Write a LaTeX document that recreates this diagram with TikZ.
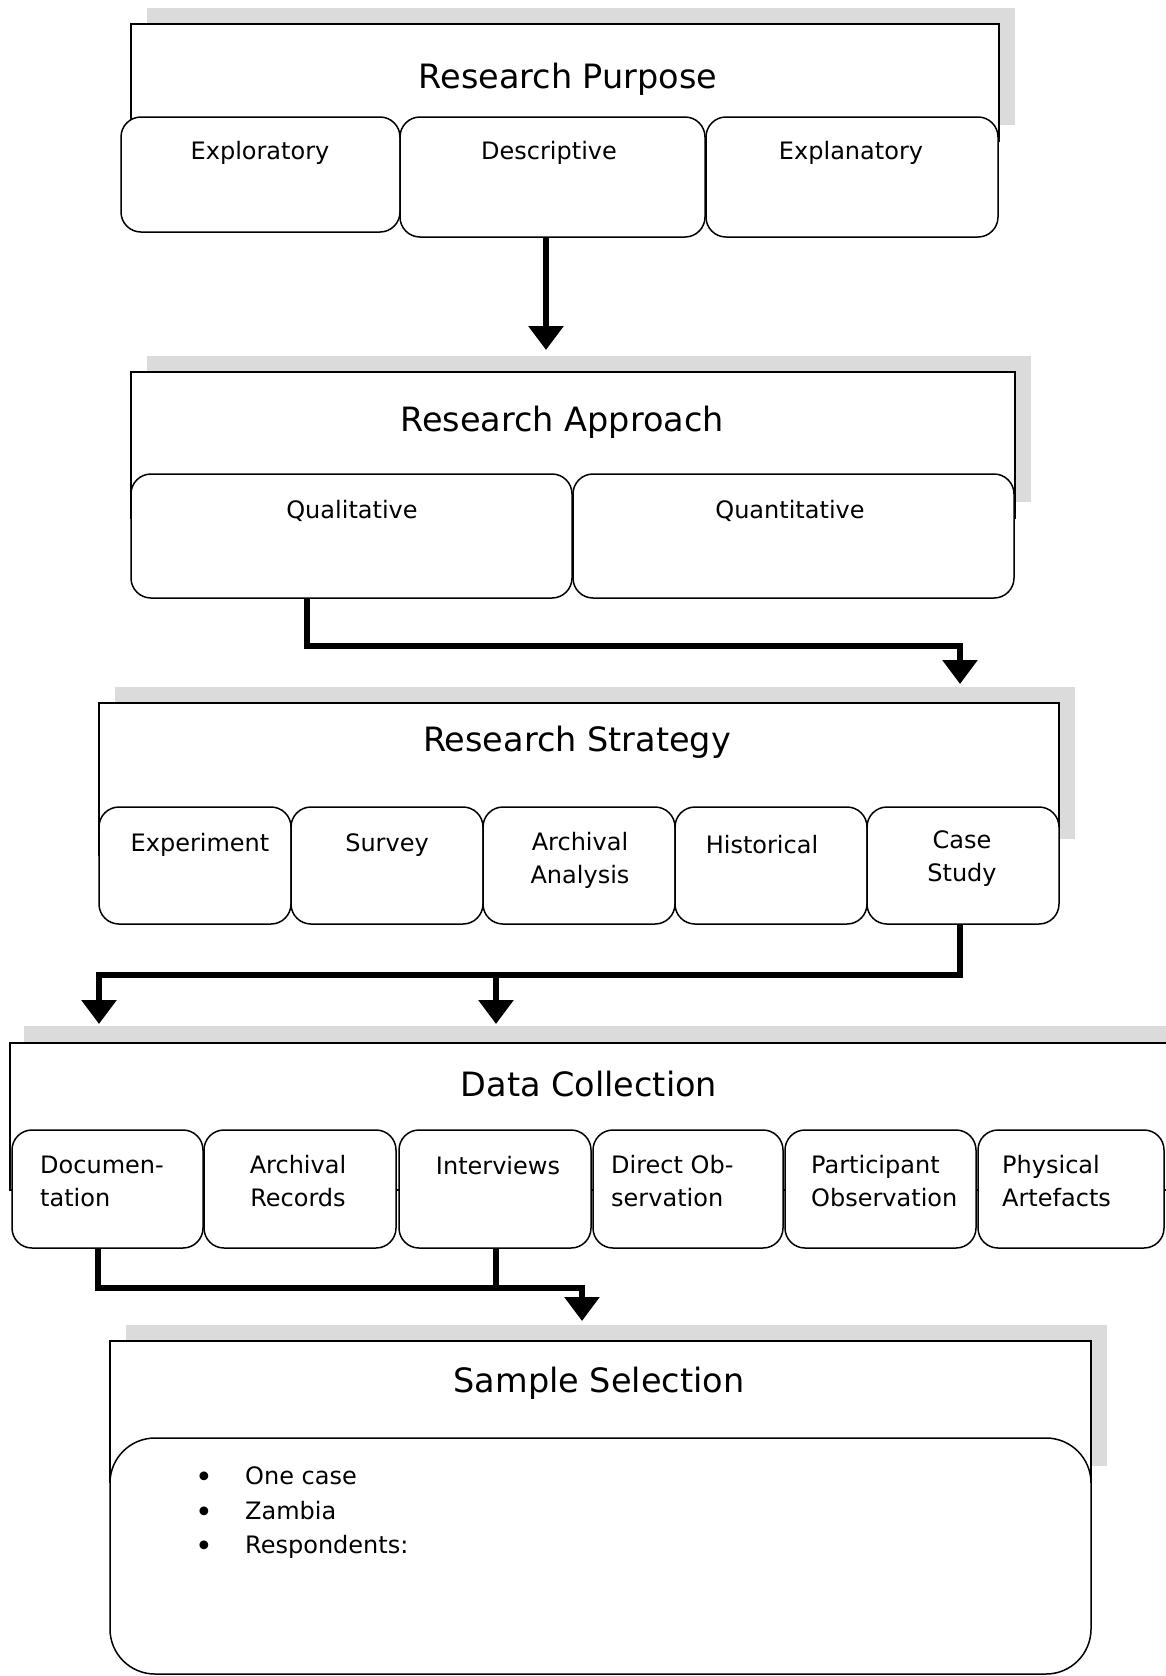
\documentclass[tikz,border=0pt]{standalone}
\usepackage{fontspec}
\setmainfont{DejaVu Sans}
\usepackage{tikz}
\usetikzlibrary{arrows.meta}

\begin{document}
\begin{tikzpicture}[x=1pt, y=-1pt,
    backdrop/.style={fill=black!14, draw=none},
    outerbox/.style={draw, fill=white, line width=1.5pt, inner sep=0pt},
    subbox/.style={draw, fill=white, line width=1.5pt, rounded corners=20pt, inner sep=0pt},
    headtext/.style={font=\fontsize{33.5}{40}\selectfont, inner sep=0pt},
    itemtext/.style={font=\fontsize{24}{33}\selectfont, align=center, inner sep=0pt},
    wire/.style={line width=6.5pt},
    link/.style={line width=6.5pt, -{Triangle[width=34pt, length=24pt]}}]
     \useasboundingbox (0,0) rectangle (1166,1676);
     \clip (0,0) rectangle (1166,1676);

     \fill[backdrop] (147,8) rectangle (1015,125);
     \node[outerbox, minimum width=868pt, minimum height=117pt] (P) at (565,82.5) {};
     \node[headtext] (Ph) at (568,79) {Research Purpose};
     \node[subbox, minimum width=279pt, minimum height=115pt] (expl) at (260.5,174.5) {};
     \node[subbox, minimum width=305pt, minimum height=120pt] (desc) at (552.5,177) {};
     \node[subbox, minimum width=292pt, minimum height=120pt] (expn) at (852,177) {};
     \node[itemtext] (explt) at (260,153) {Exploratory};
     \node[itemtext] (desct) at (549,153) {Descriptive};
     \node[itemtext] (expnt) at (851,153) {Explanatory};

     \fill[backdrop] (147,356) rectangle (1031,502);
     \node[outerbox, minimum width=884pt, minimum height=146pt] (A) at (573,445) {};
     \node[headtext] (Ah) at (562,422) {Research Approach};
     \node[subbox, minimum width=441pt, minimum height=124pt] (qual) at (351.5,536) {};
     \node[subbox, minimum width=441pt, minimum height=124pt] (quan) at (793.5,536) {};
     \node[itemtext] (qualt) at (352,511) {Qualitative};
     \node[itemtext] (quant) at (790,511) {Quantitative};

     \fill[backdrop] (115,687) rectangle (1075,839);
     \node[outerbox, minimum width=960pt, minimum height=152pt] (S) at (579,779) {};
     \node[headtext] (Sh) at (577,742) {Research Strategy};
     \node[subbox, minimum width=192pt, minimum height=117pt] (expe) at (195,865.5) {};
     \node[subbox, minimum width=192pt, minimum height=117pt] (surv) at (387,865.5) {};
     \node[subbox, minimum width=192pt, minimum height=117pt] (arch) at (579,865.5) {};
     \node[subbox, minimum width=192pt, minimum height=117pt] (hist) at (771,865.5) {};
     \node[subbox, minimum width=192pt, minimum height=117pt] (case) at (963,865.5) {};
     \node[itemtext] (expet) at (200,845) {Experiment};
     \node[itemtext] (survt) at (387,845) {Survey};
     \node[itemtext] (archt) at (580,860) {Archival\\Analysis};
     \node[itemtext] (histt) at (762,845) {Historical};
     \node[itemtext] (caset) at (962,859) {Case\\Study};

     \fill[backdrop] (24,1026) rectangle (1190,1173);
     \node[outerbox, minimum width=1165pt, minimum height=147pt] (D) at (592.5,1116.5) {};
     \node[headtext] (Dh) at (589,1084) {Data Collection};
     \node[subbox, minimum width=191pt, minimum height=118pt] (doc) at (107.5,1189) {};
     \node[subbox, minimum width=192pt, minimum height=118pt] (rec) at (300,1189) {};
     \node[subbox, minimum width=192pt, minimum height=118pt] (intv) at (495,1189) {};
     \node[subbox, minimum width=190pt, minimum height=118pt] (dobs) at (688,1189) {};
     \node[subbox, minimum width=191pt, minimum height=118pt] (pobs) at (880.5,1189) {};
     \node[subbox, minimum width=186pt, minimum height=118pt] (phys) at (1071,1189) {};
     \node[itemtext, align=left, anchor=west] (doct) at (40,1181) {Documen-\\tation};
     \node[itemtext] (rect) at (298,1181) {Archival\\Records};
     \node[itemtext] (intvt) at (498,1166) {Interviews};
     \node[itemtext, align=left, anchor=west] (dobst) at (611,1181) {Direct Ob-\\servation};
     \node[itemtext, align=left, anchor=west] (pobst) at (811,1181) {Participant\\Observation};
     \node[itemtext, align=left, anchor=west] (physt) at (1002,1181) {Physical\\Artefacts};

     \fill[backdrop] (126,1325) rectangle (1107,1466);
     \node[outerbox, minimum width=981pt, minimum height=141pt] (E) at (600.5,1411.5) {};
     \node[headtext] (Eh) at (599,1383) {Sample Selection};
     \node[subbox, rounded corners=45pt, minimum width=981pt, minimum height=236pt] (samp) at (600.5,1556) {};
     \node[itemtext, align=left, anchor=north west] (sampt) at (197,1460) {%
       \renewcommand{\arraystretch}{1.05}%
       \begin{tabular}{@{}l@{\hspace{34pt}}l@{}}
       \makebox[14pt]{\raisebox{-3pt}{\fontsize{30}{30}\selectfont •}} & One case\\
       \makebox[14pt]{\raisebox{-3pt}{\fontsize{30}{30}\selectfont •}} & Zambia\\
       \makebox[14pt]{\raisebox{-3pt}{\fontsize{30}{30}\selectfont •}} & Respondents:
       \end{tabular}};

     \coordinate (t1) at (546,350);
     \coordinate (j2) at (307,646);
     \coordinate (t2) at (960,684);
     \coordinate (j3) at (960,975);
     \coordinate (t3a) at (99,1024);
     \coordinate (t3b) at (496,1024);
     \coordinate (j4) at (98,1288);
     \coordinate (k4) at (496,1288);
     \coordinate (t4) at (582,1321);

     \draw[link] (desc.south -| t1) -- (t1);
     \draw[link] (qual.south -| j2) -- (j2) -| (t2);
     \draw[link] (case.south -| j3) -- (j3) -| (t3a);
     \draw[link] (t3b |- j3) -- (t3b);
     \draw[link] (doc.south -| j4) -- (j4) -| (t4);
     \draw[wire] (intv.south -| k4) -- (k4);
\end{tikzpicture}
\end{document}
